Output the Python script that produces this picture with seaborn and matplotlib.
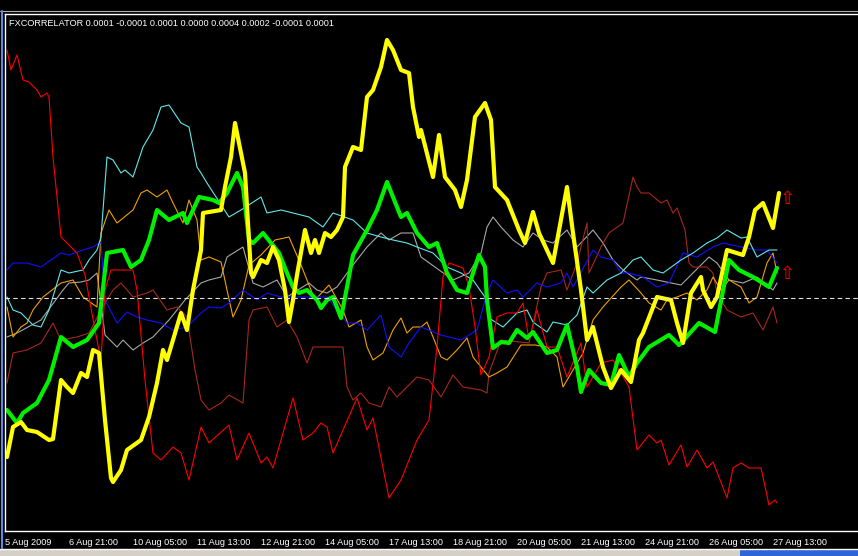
import matplotlib
matplotlib.use("Agg")
import matplotlib.pyplot as plt
import seaborn as sns
from matplotlib.patches import Rectangle
from matplotlib.lines import Line2D

# hourly bars since 5 Aug 2009, indicator values (x 1e-4)
yellow_x = [0, 1, 4, 8, 11, 16, 22, 24, 28, 31, 34, 38, 41, 44, 47, 50, 53, 54, 58, 61, 68, 72, 76, 79, 81, 84, 88, 91, 94, 98,
            99, 108, 110, 113, 115, 119, 120, 123, 124, 128, 131, 134, 137, 140, 142, 144, 146, 150, 153, 155, 157, 160, 163,
            166, 169, 170, 174, 178, 181, 184, 188, 191, 194, 198, 202, 204, 207, 208, 214, 217, 220, 225, 228, 231, 235, 240,
            243, 245, 251, 257, 260, 264, 267, 274, 281, 284, 288, 291, 294, 299, 303, 308, 313, 317, 319, 326, 333, 336, 339,
            343, 348, 349, 353, 356, 361, 369, 372, 375, 379, 384, 387]
yellow = [-157, -159, -129, -124, -132, -134, -142, -141, -82, -89, -95, -75, -79, -52, -55, -122, -180, -184, -172, -152, -142,
          -119, -85, -52, -62, -42, -15, -32, 8, 48, 85, 88, 111, 141, 175, 135, 125, 25, 21, 38, 35, 51, 38, 8, -24, -2, 23, 68,
          45, 58, 45, 65, 61, 68, 81, 131, 151, 148, 201, 208, 231, 258, 248, 228, 225, 191, 161, 168, 121, 163, 121, 108, 91,
          118, 181, 195, 178, 111, 98, 68, 55, 86, 65, 35, 111, 65, 8, -42, -29, -69, -90, -72, -84, -42, -35, 1, -2, -25, -45,
          5, 21, 8, -9, 1, 48, 43, 61, 88, 95, 70, 105]

green_x = [1, 6, 9, 16, 22, 28, 34, 41, 47, 51, 59, 63, 68, 72, 76, 82, 89, 91, 97, 104, 107, 111, 116, 119, 122, 124, 129, 133,
           137, 141, 144, 147, 151, 156, 158, 161, 164, 168, 171, 174, 181, 186, 191, 198, 201, 206, 212, 216, 221, 226, 231,
           234, 237, 240, 241, 244, 248, 252, 256, 261, 264, 271, 276, 281, 286, 288, 292, 298, 303, 307, 312, 316, 322, 332,
           337, 347, 355, 362, 367, 374, 382, 386]
green = [-112, -125, -115, -105, -82, -39, -49, -42, -25, 45, 48, 31, 38, 58, 88, 78, 85, 75, 101, 98, 95, 105, 125, 111, 58, 55,
         65, 55, 45, 25, 11, 5, 8, -2, -10, -2, 1, -20, 11, 43, 68, 88, 116, 81, 85, 65, 51, 55, 25, 8, 5, 25, 43, 31, -2, -50,
         -44, -45, -32, -40, -34, -55, -52, -27, -69, -94, -72, -85, -87, -57, -79, -65, -49, -37, -47, -25, -34, 38, 28, 21, 11,
         30]

red_x = [1, 3, 6, 9, 12, 16, 18, 21, 22, 24, 28, 36, 40, 45, 48, 50, 53, 64, 66, 70, 74, 78, 84, 88, 92, 98, 102, 112, 116, 122,
         128, 131, 134, 144, 149, 154, 158, 161, 164, 169, 176, 181, 184, 192, 198, 202, 206, 212, 216, 219, 222, 229, 232, 235,
         238, 242, 246, 251, 256, 259, 262, 266, 271, 276, 281, 288, 291, 298, 304, 308, 312, 316, 322, 326, 328, 332, 338, 341,
         346, 351, 354, 356, 361, 364, 368, 372, 378, 382, 385, 386]
red = [248, 228, 243, 218, 216, 208, 201, 205, 201, 141, 61, 45, 23, -32, -62, 8, 28, 28, 8, -82, -155, -162, -149, -155, -182,
       -129, -145, -127, -162, -135, -165, -159, -170, -100, -142, -135, -125, -129, -155, -132, -100, -132, -120, -200, -182,
       -162, -142, -122, -49, 21, 35, 30, 11, -29, -77, -59, -19, -15, -15, -5, -42, -12, -49, -49, -79, -45, -89, -65, -62,
       -75, -89, -152, -137, -145, -142, -167, -147, -169, -152, -170, -164, -174, -200, -170, -165, -170, -170, -207, -202,
       -205]

darkred_x = [1, 4, 11, 18, 24, 28, 36, 42, 48, 54, 58, 64, 71, 74, 81, 86, 91, 95, 98, 102, 108, 112, 119, 122, 124, 131, 136,
             141, 146, 151, 154, 166, 169, 171, 174, 178, 182, 188, 192, 196, 201, 206, 212, 218, 224, 229, 238, 241, 242, 248,
             262, 268, 271, 278, 281, 286, 291, 292, 298, 302, 309, 314, 316, 318, 322, 328, 331, 334, 336, 340, 342, 344, 351,
             354, 356, 361, 368, 374, 379, 384, 386]
darkred = [-85, -55, -52, -45, -25, -42, -39, -35, -12, 8, 15, 1, 5, 8, -12, -9, -19, -72, -102, -112, -105, -97, -105, -22, -12,
           -9, -29, -22, -39, -65, -49, -49, -49, -89, -102, -95, -105, -109, -89, -99, -89, -79, -82, -99, -77, -89, -92, -95,
           -75, -42, -45, 11, 25, 28, 8, 35, 75, 25, 51, 65, 75, 121, 111, 105, 105, 95, 98, 85, 90, 68, 35, 31, 31, 25, 5, -12,
           -19, -15, -32, -9, -25]

cyan_x = [1, 4, 8, 14, 18, 22, 28, 32, 39, 42, 46, 48, 51, 54, 58, 60, 64, 69, 74, 78, 82, 88, 92, 96, 98, 101, 112, 118, 128,
          131, 138, 144, 152, 159, 164, 174, 181, 188, 194, 201, 206, 214, 221, 228, 234, 241, 242, 249, 256, 261, 264, 271, 274,
          281, 286, 291, 294, 301, 308, 314, 318, 324, 329, 338, 344, 351, 356, 361, 368, 371, 376, 382, 386]
cyan = [1, -12, -15, -27, -29, -12, 28, 25, 28, 38, 48, 61, 141, 138, 125, 128, 121, 151, 168, 191, 193, 175, 171, 131, 125, 115,
        81, 88, 101, 85, 88, 85, 81, 71, 85, 78, 65, 61, 58, 55, 51, 45, 31, 25, 18, -2, -20, -29, -15, -12, -24, -34, -24, -27,
        -17, 11, 5, 18, 25, 38, 41, 28, 25, 38, 45, 55, 60, 68, 60, 61, 41, 48, 48]

blue_x = [1, 4, 11, 18, 28, 32, 39, 44, 48, 50, 56, 61, 66, 71, 78, 84, 91, 98, 102, 108, 112, 119, 126, 131, 138, 154, 161,
          171, 176, 181, 188, 192, 198, 202, 208, 218, 228, 236, 241, 244, 251, 256, 259, 266, 271, 278, 281, 284, 294, 298,
          304, 308, 312, 319, 326, 332, 339, 346, 354, 359, 368, 376, 381, 386]
blue = [28, 35, 35, 31, 45, 43, 48, 51, 56, -2, -25, -14, -19, -22, -25, -32, -29, -15, -9, -10, -5, 8, -2, 5, 1, 1, 1, -25, -25,
        -32, -17, -49, -59, -45, -29, -37, -42, -32, 5, 18, 5, 8, 1, 15, 11, 15, 25, 11, 48, 41, 38, 25, 25, 21, 11, 15, 45, 41,
        51, 55, 51, 48, 48, 35]

orange_x = [1, 4, 8, 11, 14, 19, 28, 34, 39, 46, 48, 52, 56, 64, 68, 71, 76, 81, 84, 89, 92, 96, 98, 102, 108, 111, 114, 118,
            122, 128, 135, 142, 148, 155, 162, 169, 172, 178, 181, 184, 189, 194, 198, 201, 204, 208, 211, 218, 221, 226, 231,
            234, 238, 242, 246, 251, 258, 265, 271, 276, 279, 284, 289, 294, 299, 308, 312, 318, 322, 328, 331, 336, 341, 346,
            351, 354, 358, 362, 368, 372, 376, 381, 384, 386]
orange = [-9, -39, -29, -25, -12, 1, 15, 18, 1, -9, 65, 88, 75, 88, 105, 108, 101, 108, 95, 75, 98, 78, 38, 41, 36, 8, -19, -2,
          33, 43, 58, 61, 33, -2, 13, -12, -29, -22, -49, -62, -55, -32, -20, -35, -29, -29, -24, -59, -62, -52, -40, -59, -69,
          -79, -75, -69, -47, -47, -49, -59, -89, -72, -55, -22, -9, 11, 18, 5, -5, -12, -2, 1, 5, -2, 8, 21, 8, 18, 11, -5, 1,
          35, 45, 25]

gray_x = [1, 6, 18, 29, 32, 38, 42, 46, 50, 56, 59, 64, 69, 74, 82, 90, 98, 102, 108, 111, 119, 124, 129, 136, 141, 152, 156,
          161, 166, 174, 181, 188, 192, 198, 204, 208, 224, 232, 238, 241, 244, 248, 254, 259, 264, 269, 274, 281, 286, 294,
          299, 304, 309, 316, 318, 326, 338, 352, 356, 362, 369, 376, 384, 386]
gray = [-39, -35, -22, 8, 15, 16, 18, 25, -37, -49, -42, -52, -45, -39, -22, -2, 15, 18, 21, 41, 51, 15, 11, 18, 1, 15, 8, 5,
        11, 33, 51, 65, 58, 65, 65, 41, 18, 25, 45, 71, 81, 71, 58, 51, 65, 58, 55, 68, 51, 68, 55, 38, 28, 18, 21, 18, 13, 41,
        35, 18, 15, 21, 8, 15]

tick_bars = [0, 32, 64, 96, 128, 160, 192, 224, 256, 288, 320, 352, 384]
tick_labels = ["5 Aug 2009", "6 Aug 21:00", "10 Aug 05:00", "11 Aug 13:00", "12 Aug 21:00", "14 Aug 05:00",
               "17 Aug 13:00", "18 Aug 21:00", "20 Aug 05:00", "21 Aug 13:00", "24 Aug 21:00", "26 Aug 05:00",
               "27 Aug 13:00"]
header = "FXCORRELATOR 0.0001 -0.0001 0.0001 0.0000 0.0004 0.0002 -0.0001 0.0001"

sns.set_style("dark")
plt.rcParams["font.family"] = ["Liberation Sans", "DejaVu Sans"]

fig = plt.figure(figsize=(8.58, 5.56), dpi=100, facecolor="black")
ax = fig.add_axes([5 / 858, 25 / 556, 853 / 858, 517 / 556])
ax.set_facecolor("black")

thin = [
    (gray_x, gray, "#A8A8A8"),
    (darkred_x, darkred, "#A8281A"),
    (orange_x, orange, "#F0A000"),
    (blue_x, blue, "#1010FF"),
    (cyan_x, cyan, "#60E8E8"),
    (red_x, red, "#FF0000"),
]
for xs, ys, c in thin:
    sns.lineplot(x=xs, y=ys, color=c, linewidth=0.8, ax=ax, sort=False, estimator=None, legend=False)

sns.lineplot(x=green_x, y=green, color="#00F000", linewidth=3.0, ax=ax, sort=False, estimator=None, legend=False)
sns.lineplot(x=yellow_x, y=yellow, color="#FFFF00", linewidth=3.0, ax=ax, sort=False, estimator=None, legend=False)

# zero level
ax.axhline(0, color="#E0E0E0", linewidth=0.8, linestyle=(0, (4, 3)))

# red arrow signals after the last bar of the two main lines
for ys in (yellow, green):
    ax.text(yellow_x[-1] + 4, ys[-1] - 6, "\u21e7", color="#FF0000", fontsize=13,
            ha="center", va="center", family="DejaVu Sans")

ax.set_xlim(0, 426.5)
ax.set_ylim(-233, 284)
ax.set_xticks(tick_bars)
ax.set_xticklabels(tick_labels, ha="left", color="white", fontsize=6.6)
ax.set_yticks([])
ax.tick_params(axis="x", direction="out", length=3, width=0.8, color="white", pad=2)
ax.set_xlabel("")
ax.set_ylabel("")
ax.grid(False)
for side in ("left", "top", "bottom"):
    ax.spines[side].set_visible(True)
    ax.spines[side].set_color("white")
    ax.spines[side].set_linewidth(1.0)
ax.spines["right"].set_visible(False)

fig.text(9 / 858, 1 - 24 / 556, header, color="white", fontsize=6.6, va="center", ha="left")

# window frame bits
fig.add_artist(Line2D([0, 1], [1 - 11 / 556] * 2, color="#B0B0B0", linewidth=0.8))
fig.add_artist(Line2D([1.5 / 858] * 2, [8 / 556, 1 - 11 / 556], color="#5A8BE0", linewidth=1.5))
fig.add_artist(Rectangle((0, 0), 1, 7 / 556, transform=fig.transFigure, facecolor="#D4D0C8", edgecolor="none"))
fig.add_artist(Line2D([0, 1], [7.5 / 556] * 2, color="white", linewidth=1.0))
fig.add_artist(Rectangle((740 / 858, 0), 118 / 858, 7 / 556, transform=fig.transFigure,
                         facecolor="#2E64D6", edgecolor="none"))

fig.savefig("out.png", dpi=100, facecolor="black")
